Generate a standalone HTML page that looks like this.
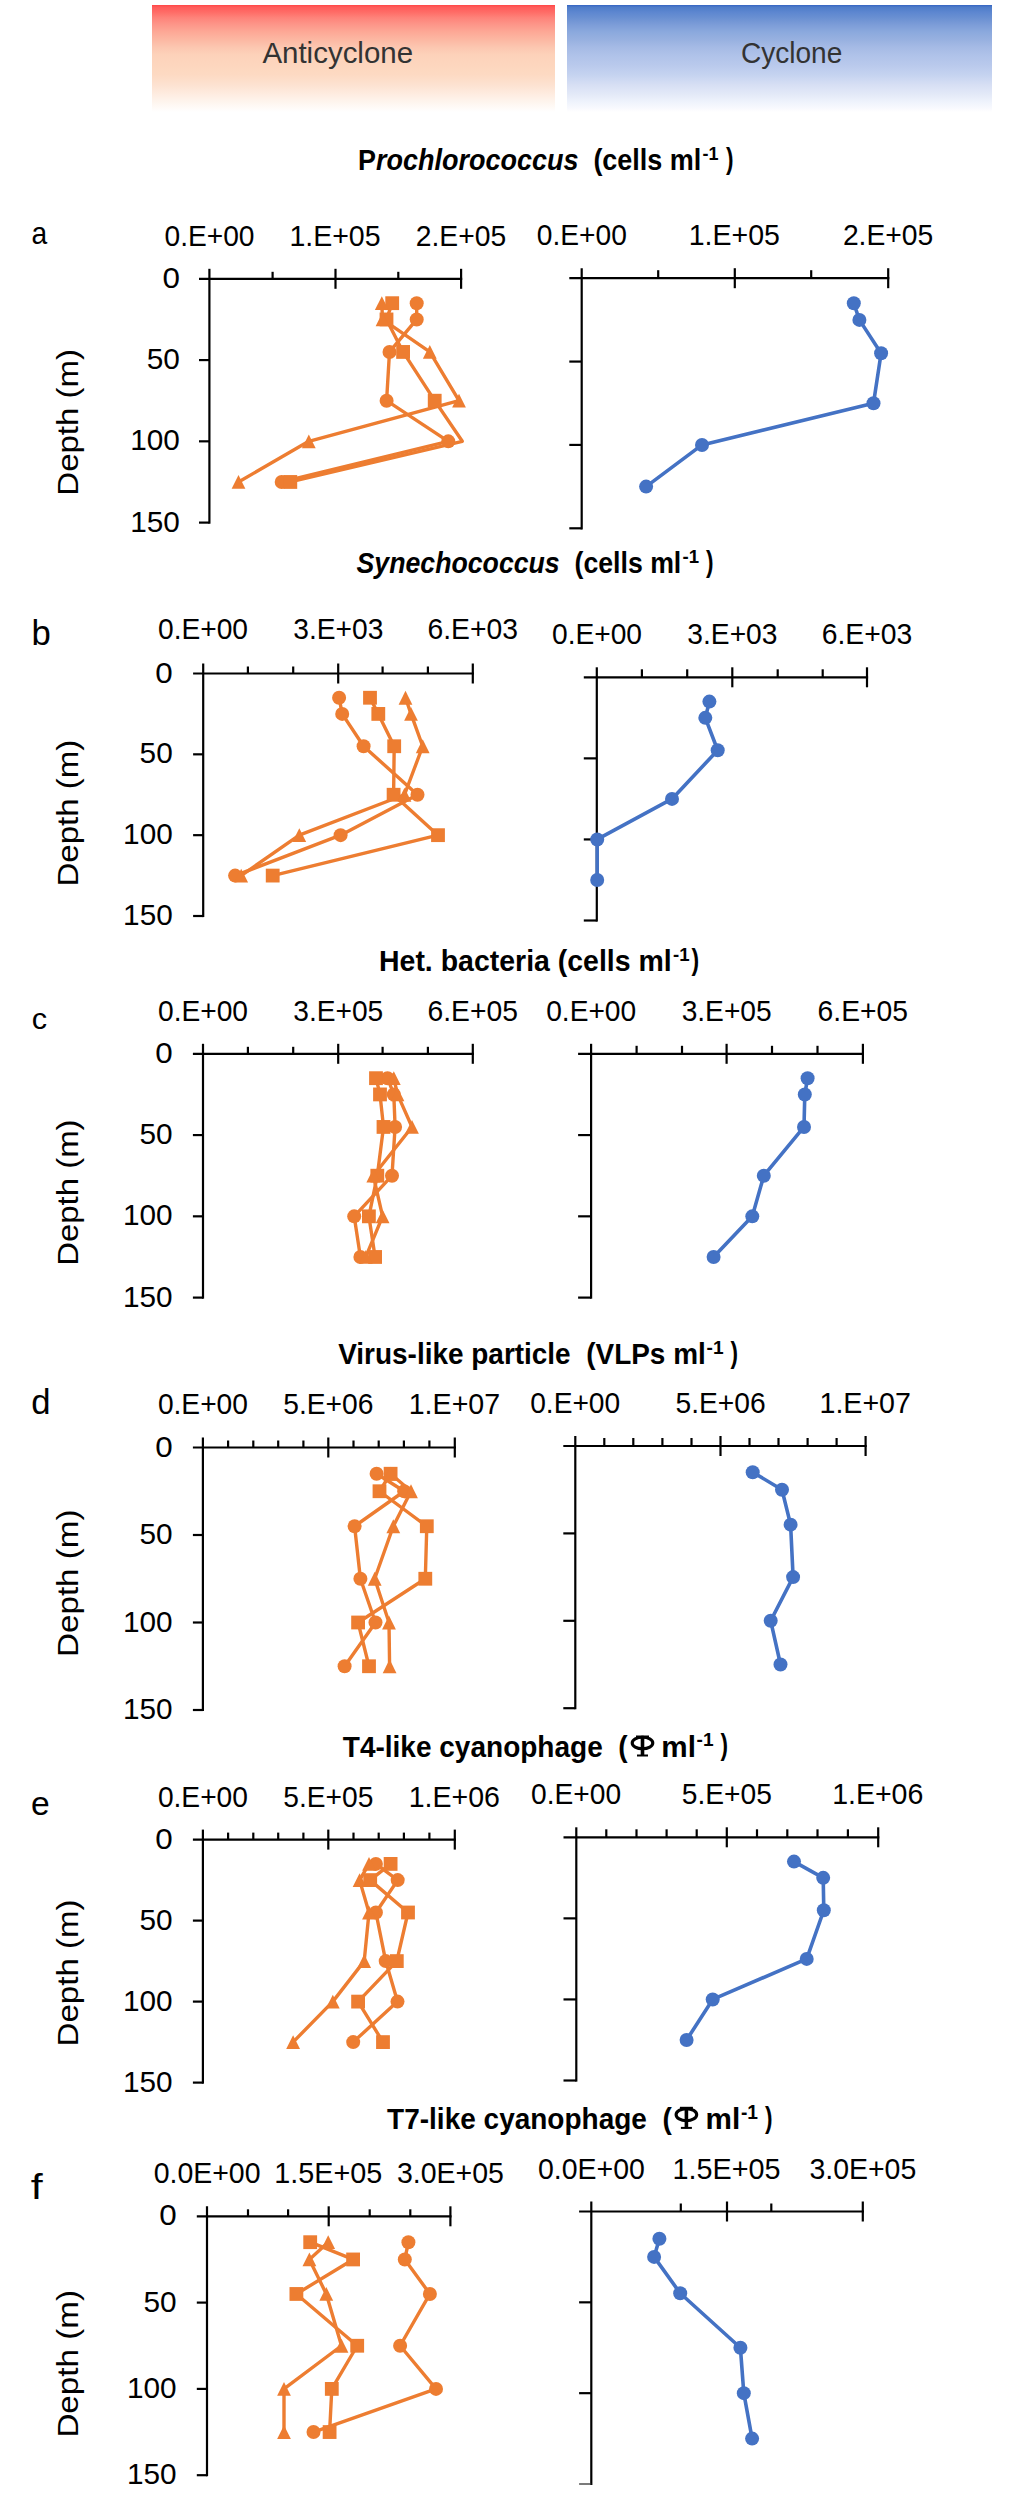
<!DOCTYPE html><html><head><meta charset="utf-8"><style>
html,body{margin:0;padding:0;background:#fff;}body{width:1013px;height:2500px;overflow:hidden;}
svg{display:block;font-family:"Liberation Sans", sans-serif;}
</style></head><body>
<svg width="1013" height="2500" viewBox="0 0 1013 2500">
<defs>
<linearGradient id="gr" x1="0" y1="0" x2="0" y2="1"><stop offset="0" stop-color="#FF4545"/><stop offset="0.02" stop-color="#FF5C5A"/><stop offset="0.065" stop-color="#FF6B66"/><stop offset="0.12" stop-color="#FE837A"/><stop offset="0.187" stop-color="#FD978A"/><stop offset="0.252" stop-color="#FDA896"/><stop offset="0.327" stop-color="#FCB8A3"/><stop offset="0.393" stop-color="#FCC6B0"/><stop offset="0.467" stop-color="#FDD2BA"/><stop offset="0.56" stop-color="#FDD6BE"/><stop offset="0.654" stop-color="#FDDAC3"/><stop offset="0.748" stop-color="#FDE2D1"/><stop offset="0.841" stop-color="#FEEDE2"/><stop offset="0.907" stop-color="#FEF5EE"/><stop offset="0.963" stop-color="#FFFBF8"/><stop offset="1" stop-color="#FFFFFF"/></linearGradient>
<linearGradient id="gb" x1="0" y1="0" x2="0" y2="1"><stop offset="0" stop-color="#3464C2"/><stop offset="0.02" stop-color="#4E7CC8"/><stop offset="0.065" stop-color="#5C86D0"/><stop offset="0.12" stop-color="#6A90D2"/><stop offset="0.187" stop-color="#7D9DD8"/><stop offset="0.252" stop-color="#8BA9DD"/><stop offset="0.327" stop-color="#98B1E0"/><stop offset="0.393" stop-color="#A5BAE5"/><stop offset="0.467" stop-color="#AFC2E9"/><stop offset="0.56" stop-color="#B9C9EC"/><stop offset="0.654" stop-color="#C5D3F0"/><stop offset="0.748" stop-color="#D7DFF4"/><stop offset="0.841" stop-color="#E4EAF8"/><stop offset="0.907" stop-color="#EFF3FC"/><stop offset="0.963" stop-color="#F8F9FE"/><stop offset="1" stop-color="#FFFFFF"/></linearGradient>
</defs>
<rect x="152" y="5" width="403" height="107" fill="url(#gr)"/>
<rect x="567" y="5" width="425" height="107" fill="url(#gb)"/>
<text x="262.4" y="62.9" font-size="29.2" text-anchor="start" font-weight="normal" font-style="normal" fill="#333" textLength="150.7" lengthAdjust="spacingAndGlyphs">Anticyclone</text>
<text x="741" y="63.2" font-size="29.2" text-anchor="start" font-weight="normal" font-style="normal" fill="#333" textLength="101.3" lengthAdjust="spacingAndGlyphs">Cyclone</text>
<g stroke="#000" stroke-width="2.2" fill="none" stroke-linecap="butt">
<path d="M199 278.8H462.2"/>
<path d="M209.4 268.8V523.7"/>
<path d="M335.5 268.8V288.8"/>
<path d="M461.1 268.8V288.8"/>
<path d="M272.6 271.8V278.8"/>
<path d="M398.3 271.8V278.8"/>
<path d="M199 360.07H209.4"/>
<path d="M199 441.33H209.4"/>
<path d="M199 522.6H209.4"/>
</g>
<text x="164.5" y="245.97" font-size="29.1" fill="#000" font-weight="normal" textLength="90" lengthAdjust="spacingAndGlyphs">0.E+00</text>
<text x="289.43" y="245.97" font-size="29.1" fill="#000" font-weight="normal" textLength="91.17" lengthAdjust="spacingAndGlyphs">1.E+05</text>
<text x="415.78" y="245.97" font-size="29.1" fill="#000" font-weight="normal" textLength="90.41" lengthAdjust="spacingAndGlyphs">2.E+05</text>
<text x="162.47" y="287.82" font-size="29.1" fill="#000" font-weight="normal" textLength="17.45" lengthAdjust="spacingAndGlyphs">0</text>
<text x="146.71" y="369.08" font-size="29.1" fill="#000" font-weight="normal" textLength="33.16" lengthAdjust="spacingAndGlyphs">50</text>
<text x="130.23" y="450.35" font-size="29.1" fill="#000" font-weight="normal" textLength="49.63" lengthAdjust="spacingAndGlyphs">100</text>
<text x="130.23" y="531.62" font-size="29.1" fill="#000" font-weight="normal" textLength="49.63" lengthAdjust="spacingAndGlyphs">150</text>
<defs><clipPath id="clip140125795149952"><rect x="189.4" y="258.8" width="277.7" height="283.8"/></clipPath></defs>
<g clip-path="url(#clip140125795149952)">
<polyline points="416.7,303.18 416.7,319.43 389.5,351.94 386.6,400.7 448.3,441.33 281.7,481.97" fill="none" stroke="#ED7D31" stroke-width="3.4" stroke-linejoin="round"/>
<polyline points="392.2,303.18 386.5,319.43 403.1,351.94 434.7,400.7 462.3,441.33 290.3,481.97" fill="none" stroke="#ED7D31" stroke-width="3.4" stroke-linejoin="round"/>
<polyline points="381.8,303.18 382.5,319.43 429.8,351.94 459,400.7 308.8,441.33 238.5,481.97" fill="none" stroke="#ED7D31" stroke-width="3.4" stroke-linejoin="round"/>
<circle cx="416.7" cy="303.18" r="7" fill="#ED7D31"/>
<circle cx="416.7" cy="319.43" r="7" fill="#ED7D31"/>
<circle cx="389.5" cy="351.94" r="7" fill="#ED7D31"/>
<circle cx="386.6" cy="400.7" r="7" fill="#ED7D31"/>
<circle cx="448.3" cy="441.33" r="7" fill="#ED7D31"/>
<circle cx="281.7" cy="481.97" r="7" fill="#ED7D31"/>
<rect x="385.3" y="296.28" width="13.8" height="13.8" fill="#ED7D31"/>
<rect x="379.6" y="312.53" width="13.8" height="13.8" fill="#ED7D31"/>
<rect x="396.2" y="345.04" width="13.8" height="13.8" fill="#ED7D31"/>
<rect x="427.8" y="393.8" width="13.8" height="13.8" fill="#ED7D31"/>
<rect x="283.4" y="475.07" width="13.8" height="13.8" fill="#ED7D31"/>
<path d="M381.8 296.28L388.7 310.08L374.9 310.08Z" fill="#ED7D31"/>
<path d="M382.5 312.53L389.4 326.33L375.6 326.33Z" fill="#ED7D31"/>
<path d="M429.8 345.04L436.7 358.84L422.9 358.84Z" fill="#ED7D31"/>
<path d="M459 393.8L465.9 407.6L452.1 407.6Z" fill="#ED7D31"/>
<path d="M308.8 434.43L315.7 448.23L301.9 448.23Z" fill="#ED7D31"/>
<path d="M238.5 475.07L245.4 488.87L231.6 488.87Z" fill="#ED7D31"/>
</g>
<g stroke="#000" stroke-width="2.2" fill="none" stroke-linecap="butt">
<path d="M569.3 278.2H889.3"/>
<path d="M581.7 268.2V529.4"/>
<path d="M734.8 268.2V288.2"/>
<path d="M888.2 268.2V288.2"/>
<path d="M658.2 270.2V278.2"/>
<path d="M811.2 270.2V278.2"/>
<path d="M569.3 361.57H581.7"/>
<path d="M569.3 444.93H581.7"/>
<path d="M569.3 528.3H581.7"/>
</g>
<text x="536.8" y="244.82" font-size="29.1" fill="#000" font-weight="normal" textLength="90" lengthAdjust="spacingAndGlyphs">0.E+00</text>
<text x="688.73" y="244.82" font-size="29.1" fill="#000" font-weight="normal" textLength="91.17" lengthAdjust="spacingAndGlyphs">1.E+05</text>
<text x="842.88" y="244.82" font-size="29.1" fill="#000" font-weight="normal" textLength="90.41" lengthAdjust="spacingAndGlyphs">2.E+05</text>
<defs><clipPath id="clip140125797325632"><rect x="561.7" y="258.2" width="332.5" height="290.1"/></clipPath></defs>
<g clip-path="url(#clip140125797325632)">
<polyline points="853.8,303.21 859.4,319.88 881.1,353.23 873.5,403.25 702,444.93 646.1,486.62" fill="none" stroke="#4472C4" stroke-width="3.6" stroke-linejoin="round"/>
<circle cx="853.8" cy="303.21" r="7" fill="#4472C4"/>
<circle cx="859.4" cy="319.88" r="7" fill="#4472C4"/>
<circle cx="881.1" cy="353.23" r="7" fill="#4472C4"/>
<circle cx="873.5" cy="403.25" r="7" fill="#4472C4"/>
<circle cx="702" cy="444.93" r="7" fill="#4472C4"/>
<circle cx="646.1" cy="486.62" r="7" fill="#4472C4"/>
</g>
<g stroke="#000" stroke-width="2.2" fill="none" stroke-linecap="butt">
<path d="M193.1 673.5H473.9"/>
<path d="M203.2 663.5V917.1"/>
<path d="M338.2 663.5V683.5"/>
<path d="M472.8 663.5V683.5"/>
<path d="M247.9 666.5V673.5"/>
<path d="M293.2 666.5V673.5"/>
<path d="M382.6 666.5V673.5"/>
<path d="M427.9 666.5V673.5"/>
<path d="M193.1 754.33H203.2"/>
<path d="M193.1 835.17H203.2"/>
<path d="M193.1 916H203.2"/>
</g>
<text x="158" y="639.32" font-size="29.1" fill="#000" font-weight="normal" textLength="90" lengthAdjust="spacingAndGlyphs">0.E+00</text>
<text x="293.23" y="639.32" font-size="29.1" fill="#000" font-weight="normal" textLength="90.11" lengthAdjust="spacingAndGlyphs">3.E+03</text>
<text x="427.46" y="639.32" font-size="29.1" fill="#000" font-weight="normal" textLength="90.48" lengthAdjust="spacingAndGlyphs">6.E+03</text>
<text x="155.37" y="682.52" font-size="29.1" fill="#000" font-weight="normal" textLength="17.45" lengthAdjust="spacingAndGlyphs">0</text>
<text x="139.61" y="763.35" font-size="29.1" fill="#000" font-weight="normal" textLength="33.16" lengthAdjust="spacingAndGlyphs">50</text>
<text x="123.13" y="844.18" font-size="29.1" fill="#000" font-weight="normal" textLength="49.63" lengthAdjust="spacingAndGlyphs">100</text>
<text x="123.13" y="925.02" font-size="29.1" fill="#000" font-weight="normal" textLength="49.63" lengthAdjust="spacingAndGlyphs">150</text>
<defs><clipPath id="clip140125791791936"><rect x="183.2" y="653.5" width="295.6" height="282.5"/></clipPath></defs>
<g clip-path="url(#clip140125791791936)">
<polyline points="339.1,697.75 342.2,713.92 363.6,746.25 417.5,794.75 340.6,835.17 235.1,875.58" fill="none" stroke="#ED7D31" stroke-width="3.4" stroke-linejoin="round"/>
<polyline points="370,697.75 378.3,713.92 394.2,746.25 393.6,794.75 438,835.17 272.7,875.58" fill="none" stroke="#ED7D31" stroke-width="3.4" stroke-linejoin="round"/>
<polyline points="405.5,697.75 411,713.92 422.7,746.25 404.5,794.75 299.3,835.17 241.2,875.58" fill="none" stroke="#ED7D31" stroke-width="3.4" stroke-linejoin="round"/>
<circle cx="339.1" cy="697.75" r="7" fill="#ED7D31"/>
<circle cx="342.2" cy="713.92" r="7" fill="#ED7D31"/>
<circle cx="363.6" cy="746.25" r="7" fill="#ED7D31"/>
<circle cx="417.5" cy="794.75" r="7" fill="#ED7D31"/>
<circle cx="340.6" cy="835.17" r="7" fill="#ED7D31"/>
<circle cx="235.1" cy="875.58" r="7" fill="#ED7D31"/>
<rect x="363.1" y="690.85" width="13.8" height="13.8" fill="#ED7D31"/>
<rect x="371.4" y="707.02" width="13.8" height="13.8" fill="#ED7D31"/>
<rect x="387.3" y="739.35" width="13.8" height="13.8" fill="#ED7D31"/>
<rect x="386.7" y="787.85" width="13.8" height="13.8" fill="#ED7D31"/>
<rect x="431.1" y="828.27" width="13.8" height="13.8" fill="#ED7D31"/>
<rect x="265.8" y="868.68" width="13.8" height="13.8" fill="#ED7D31"/>
<path d="M405.5 690.85L412.4 704.65L398.6 704.65Z" fill="#ED7D31"/>
<path d="M411 707.02L417.9 720.82L404.1 720.82Z" fill="#ED7D31"/>
<path d="M422.7 739.35L429.6 753.15L415.8 753.15Z" fill="#ED7D31"/>
<path d="M404.5 787.85L411.4 801.65L397.6 801.65Z" fill="#ED7D31"/>
<path d="M299.3 828.27L306.2 842.07L292.4 842.07Z" fill="#ED7D31"/>
<path d="M241.2 868.68L248.1 882.48L234.3 882.48Z" fill="#ED7D31"/>
</g>
<g stroke="#000" stroke-width="2.2" fill="none" stroke-linecap="butt">
<path d="M583.8 677.3H868.1"/>
<path d="M596.8 667.3V921.6"/>
<path d="M732.3 667.3V687.3"/>
<path d="M867 667.3V687.3"/>
<path d="M641.9 669.3V677.3"/>
<path d="M687.2 669.3V677.3"/>
<path d="M777.7 669.3V677.3"/>
<path d="M822.7 669.3V677.3"/>
<path d="M583.8 758.37H596.8"/>
<path d="M583.8 839.43H596.8"/>
<path d="M583.8 920.5H596.8"/>
</g>
<text x="552" y="644.22" font-size="29.1" fill="#000" font-weight="normal" textLength="90" lengthAdjust="spacingAndGlyphs">0.E+00</text>
<text x="687.33" y="644.22" font-size="29.1" fill="#000" font-weight="normal" textLength="90.11" lengthAdjust="spacingAndGlyphs">3.E+03</text>
<text x="821.66" y="644.22" font-size="29.1" fill="#000" font-weight="normal" textLength="90.48" lengthAdjust="spacingAndGlyphs">6.E+03</text>
<defs><clipPath id="clip140125791792064"><rect x="576.8" y="657.3" width="296.2" height="283.2"/></clipPath></defs>
<g clip-path="url(#clip140125791792064)">
<polyline points="709.4,701.62 705.3,717.83 717.7,750.26 672,798.9 597.2,839.43 597.2,879.97" fill="none" stroke="#4472C4" stroke-width="3.6" stroke-linejoin="round"/>
<circle cx="709.4" cy="701.62" r="7" fill="#4472C4"/>
<circle cx="705.3" cy="717.83" r="7" fill="#4472C4"/>
<circle cx="717.7" cy="750.26" r="7" fill="#4472C4"/>
<circle cx="672" cy="798.9" r="7" fill="#4472C4"/>
<circle cx="597.2" cy="839.43" r="7" fill="#4472C4"/>
<circle cx="597.2" cy="879.97" r="7" fill="#4472C4"/>
</g>
<g stroke="#000" stroke-width="2.2" fill="none" stroke-linecap="butt">
<path d="M192.9 1053.8H473.9"/>
<path d="M203 1043.8V1298.7"/>
<path d="M338.2 1043.8V1063.8"/>
<path d="M472.8 1043.8V1063.8"/>
<path d="M247.9 1046.8V1053.8"/>
<path d="M293.2 1046.8V1053.8"/>
<path d="M382.6 1046.8V1053.8"/>
<path d="M427.9 1046.8V1053.8"/>
<path d="M192.9 1135.07H203"/>
<path d="M192.9 1216.33H203"/>
<path d="M192.9 1297.6H203"/>
</g>
<text x="158" y="1020.72" font-size="29.1" fill="#000" font-weight="normal" textLength="90" lengthAdjust="spacingAndGlyphs">0.E+00</text>
<text x="293.23" y="1020.72" font-size="29.1" fill="#000" font-weight="normal" textLength="90.06" lengthAdjust="spacingAndGlyphs">3.E+05</text>
<text x="427.46" y="1020.72" font-size="29.1" fill="#000" font-weight="normal" textLength="90.42" lengthAdjust="spacingAndGlyphs">6.E+05</text>
<text x="155.27" y="1062.82" font-size="29.1" fill="#000" font-weight="normal" textLength="17.45" lengthAdjust="spacingAndGlyphs">0</text>
<text x="139.51" y="1144.08" font-size="29.1" fill="#000" font-weight="normal" textLength="33.16" lengthAdjust="spacingAndGlyphs">50</text>
<text x="123.03" y="1225.35" font-size="29.1" fill="#000" font-weight="normal" textLength="49.63" lengthAdjust="spacingAndGlyphs">100</text>
<text x="123.03" y="1306.62" font-size="29.1" fill="#000" font-weight="normal" textLength="49.63" lengthAdjust="spacingAndGlyphs">150</text>
<defs><clipPath id="clip140125791622080"><rect x="183" y="1033.8" width="295.8" height="283.8"/></clipPath></defs>
<g clip-path="url(#clip140125791622080)">
<polyline points="387.5,1078.18 393.8,1094.43 395.1,1126.94 392,1175.7 354.2,1216.33 360.4,1256.97" fill="none" stroke="#ED7D31" stroke-width="3.4" stroke-linejoin="round"/>
<polyline points="376,1078.18 380,1094.43 383.5,1126.94 377.3,1175.7 368.9,1216.33 375.1,1256.97" fill="none" stroke="#ED7D31" stroke-width="3.4" stroke-linejoin="round"/>
<polyline points="393.8,1078.18 397.5,1094.43 412,1126.94 373.3,1175.7 382.6,1216.33 365.8,1256.97" fill="none" stroke="#ED7D31" stroke-width="3.4" stroke-linejoin="round"/>
<circle cx="387.5" cy="1078.18" r="7" fill="#ED7D31"/>
<circle cx="393.8" cy="1094.43" r="7" fill="#ED7D31"/>
<circle cx="395.1" cy="1126.94" r="7" fill="#ED7D31"/>
<circle cx="392" cy="1175.7" r="7" fill="#ED7D31"/>
<circle cx="354.2" cy="1216.33" r="7" fill="#ED7D31"/>
<circle cx="360.4" cy="1256.97" r="7" fill="#ED7D31"/>
<rect x="369.1" y="1071.28" width="13.8" height="13.8" fill="#ED7D31"/>
<rect x="373.1" y="1087.53" width="13.8" height="13.8" fill="#ED7D31"/>
<rect x="376.6" y="1120.04" width="13.8" height="13.8" fill="#ED7D31"/>
<rect x="370.4" y="1168.8" width="13.8" height="13.8" fill="#ED7D31"/>
<rect x="362" y="1209.43" width="13.8" height="13.8" fill="#ED7D31"/>
<rect x="368.2" y="1250.07" width="13.8" height="13.8" fill="#ED7D31"/>
<path d="M393.8 1071.28L400.7 1085.08L386.9 1085.08Z" fill="#ED7D31"/>
<path d="M397.5 1087.53L404.4 1101.33L390.6 1101.33Z" fill="#ED7D31"/>
<path d="M412 1120.04L418.9 1133.84L405.1 1133.84Z" fill="#ED7D31"/>
<path d="M373.3 1168.8L380.2 1182.6L366.4 1182.6Z" fill="#ED7D31"/>
<path d="M382.6 1209.43L389.5 1223.23L375.7 1223.23Z" fill="#ED7D31"/>
<path d="M365.8 1250.07L372.7 1263.87L358.9 1263.87Z" fill="#ED7D31"/>
</g>
<g stroke="#000" stroke-width="2.2" fill="none" stroke-linecap="butt">
<path d="M578.1 1053.8H864"/>
<path d="M591.1 1043.8V1298.7"/>
<path d="M726.6 1043.8V1063.8"/>
<path d="M862.9 1043.8V1063.8"/>
<path d="M636.6 1045.8V1053.8"/>
<path d="M682 1045.8V1053.8"/>
<path d="M772 1045.8V1053.8"/>
<path d="M817.5 1045.8V1053.8"/>
<path d="M578.1 1135.07H591.1"/>
<path d="M578.1 1216.33H591.1"/>
<path d="M578.1 1297.6H591.1"/>
</g>
<text x="546.2" y="1020.72" font-size="29.1" fill="#000" font-weight="normal" textLength="90" lengthAdjust="spacingAndGlyphs">0.E+00</text>
<text x="681.63" y="1020.72" font-size="29.1" fill="#000" font-weight="normal" textLength="90.06" lengthAdjust="spacingAndGlyphs">3.E+05</text>
<text x="817.56" y="1020.72" font-size="29.1" fill="#000" font-weight="normal" textLength="90.42" lengthAdjust="spacingAndGlyphs">6.E+05</text>
<defs><clipPath id="clip140125791622016"><rect x="571.1" y="1033.8" width="297.8" height="283.8"/></clipPath></defs>
<g clip-path="url(#clip140125791622016)">
<polyline points="807.6,1078.18 804.8,1094.43 804,1126.94 763.8,1175.7 752.3,1216.33 713.6,1256.97" fill="none" stroke="#4472C4" stroke-width="3.6" stroke-linejoin="round"/>
<circle cx="807.6" cy="1078.18" r="7" fill="#4472C4"/>
<circle cx="804.8" cy="1094.43" r="7" fill="#4472C4"/>
<circle cx="804" cy="1126.94" r="7" fill="#4472C4"/>
<circle cx="763.8" cy="1175.7" r="7" fill="#4472C4"/>
<circle cx="752.3" cy="1216.33" r="7" fill="#4472C4"/>
<circle cx="713.6" cy="1256.97" r="7" fill="#4472C4"/>
</g>
<g stroke="#000" stroke-width="2.2" fill="none" stroke-linecap="butt">
<path d="M192.9 1447.5H455.9"/>
<path d="M202.9 1437.5V1711.1"/>
<path d="M328.3 1437.5V1457.5"/>
<path d="M454.8 1437.5V1457.5"/>
<path d="M228.1 1440.5V1447.5"/>
<path d="M253.3 1440.5V1447.5"/>
<path d="M278.2 1440.5V1447.5"/>
<path d="M303.4 1440.5V1447.5"/>
<path d="M353.5 1440.5V1447.5"/>
<path d="M378.7 1440.5V1447.5"/>
<path d="M403.9 1440.5V1447.5"/>
<path d="M429.4 1440.5V1447.5"/>
<path d="M192.9 1535H202.9"/>
<path d="M192.9 1622.5H202.9"/>
<path d="M192.9 1710H202.9"/>
</g>
<text x="157.9" y="1413.72" font-size="29.1" fill="#000" font-weight="normal" textLength="90" lengthAdjust="spacingAndGlyphs">0.E+00</text>
<text x="283.27" y="1413.72" font-size="29.1" fill="#000" font-weight="normal" textLength="90.17" lengthAdjust="spacingAndGlyphs">5.E+06</text>
<text x="408.72" y="1413.72" font-size="29.1" fill="#000" font-weight="normal" textLength="91.42" lengthAdjust="spacingAndGlyphs">1.E+07</text>
<text x="155.17" y="1456.52" font-size="29.1" fill="#000" font-weight="normal" textLength="17.45" lengthAdjust="spacingAndGlyphs">0</text>
<text x="139.41" y="1544.02" font-size="29.1" fill="#000" font-weight="normal" textLength="33.16" lengthAdjust="spacingAndGlyphs">50</text>
<text x="122.93" y="1631.52" font-size="29.1" fill="#000" font-weight="normal" textLength="49.63" lengthAdjust="spacingAndGlyphs">100</text>
<text x="122.93" y="1719.02" font-size="29.1" fill="#000" font-weight="normal" textLength="49.63" lengthAdjust="spacingAndGlyphs">150</text>
<defs><clipPath id="clip140125793524032"><rect x="182.9" y="1427.5" width="277.9" height="302.5"/></clipPath></defs>
<g clip-path="url(#clip140125793524032)">
<polyline points="376.6,1473.75 404.2,1491.25 354.6,1526.25 360.4,1578.75 375.5,1622.5 344.6,1666.25" fill="none" stroke="#ED7D31" stroke-width="3.4" stroke-linejoin="round"/>
<polyline points="390.6,1473.75 379.5,1491.25 426.8,1526.25 425.3,1578.75 358.1,1622.5 369,1666.25" fill="none" stroke="#ED7D31" stroke-width="3.4" stroke-linejoin="round"/>
<polyline points="390.6,1473.75 411,1491.25 393.3,1526.25 374.7,1578.75 389,1622.5 389.6,1666.25" fill="none" stroke="#ED7D31" stroke-width="3.4" stroke-linejoin="round"/>
<circle cx="376.6" cy="1473.75" r="7" fill="#ED7D31"/>
<circle cx="404.2" cy="1491.25" r="7" fill="#ED7D31"/>
<circle cx="354.6" cy="1526.25" r="7" fill="#ED7D31"/>
<circle cx="360.4" cy="1578.75" r="7" fill="#ED7D31"/>
<circle cx="375.5" cy="1622.5" r="7" fill="#ED7D31"/>
<circle cx="344.6" cy="1666.25" r="7" fill="#ED7D31"/>
<rect x="383.7" y="1466.85" width="13.8" height="13.8" fill="#ED7D31"/>
<rect x="372.6" y="1484.35" width="13.8" height="13.8" fill="#ED7D31"/>
<rect x="419.9" y="1519.35" width="13.8" height="13.8" fill="#ED7D31"/>
<rect x="418.4" y="1571.85" width="13.8" height="13.8" fill="#ED7D31"/>
<rect x="351.2" y="1615.6" width="13.8" height="13.8" fill="#ED7D31"/>
<rect x="362.1" y="1659.35" width="13.8" height="13.8" fill="#ED7D31"/>
<path d="M390.6 1466.85L397.5 1480.65L383.7 1480.65Z" fill="#ED7D31"/>
<path d="M411 1484.35L417.9 1498.15L404.1 1498.15Z" fill="#ED7D31"/>
<path d="M393.3 1519.35L400.2 1533.15L386.4 1533.15Z" fill="#ED7D31"/>
<path d="M374.7 1571.85L381.6 1585.65L367.8 1585.65Z" fill="#ED7D31"/>
<path d="M389 1615.6L395.9 1629.4L382.1 1629.4Z" fill="#ED7D31"/>
<path d="M389.6 1659.35L396.5 1673.15L382.7 1673.15Z" fill="#ED7D31"/>
</g>
<g stroke="#000" stroke-width="2.2" fill="none" stroke-linecap="butt">
<path d="M563.3 1446H866.7"/>
<path d="M575.3 1436V1709.3"/>
<path d="M720.5 1436V1456"/>
<path d="M865.6 1436V1456"/>
<path d="M604.3 1438V1446"/>
<path d="M633.3 1438V1446"/>
<path d="M662.4 1438V1446"/>
<path d="M691.5 1438V1446"/>
<path d="M749.5 1438V1446"/>
<path d="M778.5 1438V1446"/>
<path d="M807.6 1438V1446"/>
<path d="M836.6 1438V1446"/>
<path d="M563.3 1533.4H575.3"/>
<path d="M563.3 1620.8H575.3"/>
<path d="M563.3 1708.2H575.3"/>
</g>
<text x="530.2" y="1413.32" font-size="29.1" fill="#000" font-weight="normal" textLength="90" lengthAdjust="spacingAndGlyphs">0.E+00</text>
<text x="675.47" y="1413.32" font-size="29.1" fill="#000" font-weight="normal" textLength="90.17" lengthAdjust="spacingAndGlyphs">5.E+06</text>
<text x="819.52" y="1413.32" font-size="29.1" fill="#000" font-weight="normal" textLength="91.42" lengthAdjust="spacingAndGlyphs">1.E+07</text>
<defs><clipPath id="clip140125791622208"><rect x="555.3" y="1426" width="316.3" height="302.2"/></clipPath></defs>
<g clip-path="url(#clip140125791622208)">
<polyline points="752.7,1472.22 782,1489.7 790.6,1524.66 793.1,1577.1 770.7,1620.8 780.5,1664.5" fill="none" stroke="#4472C4" stroke-width="3.6" stroke-linejoin="round"/>
<circle cx="752.7" cy="1472.22" r="7" fill="#4472C4"/>
<circle cx="782" cy="1489.7" r="7" fill="#4472C4"/>
<circle cx="790.6" cy="1524.66" r="7" fill="#4472C4"/>
<circle cx="793.1" cy="1577.1" r="7" fill="#4472C4"/>
<circle cx="770.7" cy="1620.8" r="7" fill="#4472C4"/>
<circle cx="780.5" cy="1664.5" r="7" fill="#4472C4"/>
</g>
<g stroke="#000" stroke-width="2.2" fill="none" stroke-linecap="butt">
<path d="M192.9 1839.6H455.9"/>
<path d="M202.9 1829.6V2083.7"/>
<path d="M328.3 1829.6V1849.6"/>
<path d="M454.8 1829.6V1849.6"/>
<path d="M228.1 1832.6V1839.6"/>
<path d="M253.3 1832.6V1839.6"/>
<path d="M278.2 1832.6V1839.6"/>
<path d="M303.4 1832.6V1839.6"/>
<path d="M353.5 1832.6V1839.6"/>
<path d="M378.7 1832.6V1839.6"/>
<path d="M403.9 1832.6V1839.6"/>
<path d="M429.4 1832.6V1839.6"/>
<path d="M192.9 1920.6H202.9"/>
<path d="M192.9 2001.6H202.9"/>
<path d="M192.9 2082.6H202.9"/>
</g>
<text x="157.9" y="1806.82" font-size="29.1" fill="#000" font-weight="normal" textLength="90" lengthAdjust="spacingAndGlyphs">0.E+00</text>
<text x="283.27" y="1806.82" font-size="29.1" fill="#000" font-weight="normal" textLength="90.11" lengthAdjust="spacingAndGlyphs">5.E+05</text>
<text x="408.73" y="1806.82" font-size="29.1" fill="#000" font-weight="normal" textLength="91.23" lengthAdjust="spacingAndGlyphs">1.E+06</text>
<text x="155.17" y="1848.62" font-size="29.1" fill="#000" font-weight="normal" textLength="17.45" lengthAdjust="spacingAndGlyphs">0</text>
<text x="139.41" y="1929.62" font-size="29.1" fill="#000" font-weight="normal" textLength="33.16" lengthAdjust="spacingAndGlyphs">50</text>
<text x="122.93" y="2010.62" font-size="29.1" fill="#000" font-weight="normal" textLength="49.63" lengthAdjust="spacingAndGlyphs">100</text>
<text x="122.93" y="2091.62" font-size="29.1" fill="#000" font-weight="normal" textLength="49.63" lengthAdjust="spacingAndGlyphs">150</text>
<defs><clipPath id="clip140125795149184"><rect x="182.9" y="1819.6" width="277.9" height="283"/></clipPath></defs>
<g clip-path="url(#clip140125795149184)">
<polyline points="375.9,1863.9 397.7,1880.1 375.9,1912.5 385.7,1961.1 397.5,2001.6 353.2,2042.1" fill="none" stroke="#ED7D31" stroke-width="3.4" stroke-linejoin="round"/>
<polyline points="390.6,1863.9 370.2,1880.1 408,1912.5 396.8,1961.1 358.1,2001.6 383,2042.1" fill="none" stroke="#ED7D31" stroke-width="3.4" stroke-linejoin="round"/>
<polyline points="369,1863.9 359.6,1880.1 369,1912.5 364.2,1961.1 332.8,2001.6 293.1,2042.1" fill="none" stroke="#ED7D31" stroke-width="3.4" stroke-linejoin="round"/>
<circle cx="375.9" cy="1863.9" r="7" fill="#ED7D31"/>
<circle cx="397.7" cy="1880.1" r="7" fill="#ED7D31"/>
<circle cx="375.9" cy="1912.5" r="7" fill="#ED7D31"/>
<circle cx="385.7" cy="1961.1" r="7" fill="#ED7D31"/>
<circle cx="397.5" cy="2001.6" r="7" fill="#ED7D31"/>
<circle cx="353.2" cy="2042.1" r="7" fill="#ED7D31"/>
<rect x="383.7" y="1857" width="13.8" height="13.8" fill="#ED7D31"/>
<rect x="363.3" y="1873.2" width="13.8" height="13.8" fill="#ED7D31"/>
<rect x="401.1" y="1905.6" width="13.8" height="13.8" fill="#ED7D31"/>
<rect x="389.9" y="1954.2" width="13.8" height="13.8" fill="#ED7D31"/>
<rect x="351.2" y="1994.7" width="13.8" height="13.8" fill="#ED7D31"/>
<rect x="376.1" y="2035.2" width="13.8" height="13.8" fill="#ED7D31"/>
<path d="M369 1857L375.9 1870.8L362.1 1870.8Z" fill="#ED7D31"/>
<path d="M359.6 1873.2L366.5 1887L352.7 1887Z" fill="#ED7D31"/>
<path d="M369 1905.6L375.9 1919.4L362.1 1919.4Z" fill="#ED7D31"/>
<path d="M364.2 1954.2L371.1 1968L357.3 1968Z" fill="#ED7D31"/>
<path d="M332.8 1994.7L339.7 2008.5L325.9 2008.5Z" fill="#ED7D31"/>
<path d="M293.1 2035.2L300 2049L286.2 2049Z" fill="#ED7D31"/>
</g>
<g stroke="#000" stroke-width="2.2" fill="none" stroke-linecap="butt">
<path d="M563.5 1837.3H879.3"/>
<path d="M576.3 1827.3V2081.6"/>
<path d="M726.8 1827.3V1847.3"/>
<path d="M878.2 1827.3V1847.3"/>
<path d="M606.3 1829.3V1837.3"/>
<path d="M636.5 1829.3V1837.3"/>
<path d="M666.6 1829.3V1837.3"/>
<path d="M696.7 1829.3V1837.3"/>
<path d="M757 1829.3V1837.3"/>
<path d="M787.3 1829.3V1837.3"/>
<path d="M817.5 1829.3V1837.3"/>
<path d="M847.9 1829.3V1837.3"/>
<path d="M563.5 1918.37H576.3"/>
<path d="M563.5 1999.43H576.3"/>
<path d="M563.5 2080.5H576.3"/>
</g>
<text x="531.1" y="1804.32" font-size="29.1" fill="#000" font-weight="normal" textLength="90" lengthAdjust="spacingAndGlyphs">0.E+00</text>
<text x="681.77" y="1804.32" font-size="29.1" fill="#000" font-weight="normal" textLength="90.11" lengthAdjust="spacingAndGlyphs">5.E+05</text>
<text x="832.13" y="1804.32" font-size="29.1" fill="#000" font-weight="normal" textLength="91.23" lengthAdjust="spacingAndGlyphs">1.E+06</text>
<defs><clipPath id="clip140125791622144"><rect x="556.3" y="1817.3" width="327.9" height="283.2"/></clipPath></defs>
<g clip-path="url(#clip140125791622144)">
<polyline points="794,1861.62 823.2,1877.83 823.8,1910.26 806.7,1958.9 712.7,1999.43 686.6,2039.97" fill="none" stroke="#4472C4" stroke-width="3.6" stroke-linejoin="round"/>
<circle cx="794" cy="1861.62" r="7" fill="#4472C4"/>
<circle cx="823.2" cy="1877.83" r="7" fill="#4472C4"/>
<circle cx="823.8" cy="1910.26" r="7" fill="#4472C4"/>
<circle cx="806.7" cy="1958.9" r="7" fill="#4472C4"/>
<circle cx="712.7" cy="1999.43" r="7" fill="#4472C4"/>
<circle cx="686.6" cy="2039.97" r="7" fill="#4472C4"/>
</g>
<g stroke="#000" stroke-width="2.2" fill="none" stroke-linecap="butt">
<path d="M196.8 2216.3H451.5"/>
<path d="M207 2206.3V2476.3"/>
<path d="M328.7 2206.3V2226.3"/>
<path d="M450.4 2206.3V2226.3"/>
<path d="M248 2209.3V2216.3"/>
<path d="M288.1 2209.3V2216.3"/>
<path d="M369.7 2209.3V2216.3"/>
<path d="M410.3 2209.3V2216.3"/>
<path d="M196.8 2302.6H207"/>
<path d="M196.8 2388.9H207"/>
<path d="M196.8 2475.2H207"/>
</g>
<text x="153.69" y="2182.62" font-size="29.1" fill="#000" font-weight="normal" textLength="106.82" lengthAdjust="spacingAndGlyphs">0.0E+00</text>
<text x="274.21" y="2182.62" font-size="29.1" fill="#000" font-weight="normal" textLength="108" lengthAdjust="spacingAndGlyphs">1.5E+05</text>
<text x="397.02" y="2182.62" font-size="29.1" fill="#000" font-weight="normal" textLength="106.88" lengthAdjust="spacingAndGlyphs">3.0E+05</text>
<text x="159.17" y="2225.32" font-size="29.1" fill="#000" font-weight="normal" textLength="17.45" lengthAdjust="spacingAndGlyphs">0</text>
<text x="143.41" y="2311.62" font-size="29.1" fill="#000" font-weight="normal" textLength="33.16" lengthAdjust="spacingAndGlyphs">50</text>
<text x="126.93" y="2397.92" font-size="29.1" fill="#000" font-weight="normal" textLength="49.63" lengthAdjust="spacingAndGlyphs">100</text>
<text x="126.93" y="2484.22" font-size="29.1" fill="#000" font-weight="normal" textLength="49.63" lengthAdjust="spacingAndGlyphs">150</text>
<defs><clipPath id="clip140125795147968"><rect x="187" y="2196.3" width="269.4" height="298.9"/></clipPath></defs>
<g clip-path="url(#clip140125795147968)">
<polyline points="408.4,2242.19 404.8,2259.45 429.9,2293.97 400.1,2345.75 436,2388.9 313.5,2432.05" fill="none" stroke="#ED7D31" stroke-width="3.4" stroke-linejoin="round"/>
<polyline points="310.2,2242.19 353.1,2259.45 296.4,2293.97 357.2,2345.75 331.8,2388.9 329.6,2432.05" fill="none" stroke="#ED7D31" stroke-width="3.4" stroke-linejoin="round"/>
<polyline points="328.2,2242.19 309.4,2259.45 326.3,2293.97 341.5,2345.75 284,2388.9 284,2432.05" fill="none" stroke="#ED7D31" stroke-width="3.4" stroke-linejoin="round"/>
<circle cx="408.4" cy="2242.19" r="7" fill="#ED7D31"/>
<circle cx="404.8" cy="2259.45" r="7" fill="#ED7D31"/>
<circle cx="429.9" cy="2293.97" r="7" fill="#ED7D31"/>
<circle cx="400.1" cy="2345.75" r="7" fill="#ED7D31"/>
<circle cx="436" cy="2388.9" r="7" fill="#ED7D31"/>
<circle cx="313.5" cy="2432.05" r="7" fill="#ED7D31"/>
<rect x="303.3" y="2235.29" width="13.8" height="13.8" fill="#ED7D31"/>
<rect x="346.2" y="2252.55" width="13.8" height="13.8" fill="#ED7D31"/>
<rect x="289.5" y="2287.07" width="13.8" height="13.8" fill="#ED7D31"/>
<rect x="350.3" y="2338.85" width="13.8" height="13.8" fill="#ED7D31"/>
<rect x="324.9" y="2382" width="13.8" height="13.8" fill="#ED7D31"/>
<rect x="322.7" y="2425.15" width="13.8" height="13.8" fill="#ED7D31"/>
<path d="M328.2 2235.29L335.1 2249.09L321.3 2249.09Z" fill="#ED7D31"/>
<path d="M309.4 2252.55L316.3 2266.35L302.5 2266.35Z" fill="#ED7D31"/>
<path d="M326.3 2287.07L333.2 2300.87L319.4 2300.87Z" fill="#ED7D31"/>
<path d="M341.5 2338.85L348.4 2352.65L334.6 2352.65Z" fill="#ED7D31"/>
<path d="M284 2382L290.9 2395.8L277.1 2395.8Z" fill="#ED7D31"/>
<path d="M284 2425.15L290.9 2438.95L277.1 2438.95Z" fill="#ED7D31"/>
</g>
<g stroke="#000" stroke-width="2.2" fill="none" stroke-linecap="butt">
<path d="M579.1 2211.5H863.9"/>
<path d="M591.3 2201.5V2485.1"/>
<path d="M727 2201.5V2221.5"/>
<path d="M862.8 2201.5V2221.5"/>
<path d="M680.8 2203.5V2211.5"/>
<path d="M771.3 2203.5V2211.5"/>
<path d="M579.1 2302.33H591.3"/>
<path d="M579.1 2393.17H591.3"/>
<path d="M579.1 2484H591.3" stroke-width="1.3" stroke="#333"/>
</g>
<text x="537.99" y="2178.62" font-size="29.1" fill="#000" font-weight="normal" textLength="106.82" lengthAdjust="spacingAndGlyphs">0.0E+00</text>
<text x="672.51" y="2178.62" font-size="29.1" fill="#000" font-weight="normal" textLength="108" lengthAdjust="spacingAndGlyphs">1.5E+05</text>
<text x="809.42" y="2178.62" font-size="29.1" fill="#000" font-weight="normal" textLength="106.88" lengthAdjust="spacingAndGlyphs">3.0E+05</text>
<defs><clipPath id="clip140125795149376"><rect x="571.3" y="2191.5" width="297.5" height="312.5"/></clipPath></defs>
<g clip-path="url(#clip140125795149376)">
<polyline points="659.4,2238.75 654.1,2256.92 680.2,2293.25 740.4,2347.75 743.8,2393.17 752.1,2438.58" fill="none" stroke="#4472C4" stroke-width="3.6" stroke-linejoin="round"/>
<circle cx="659.4" cy="2238.75" r="7" fill="#4472C4"/>
<circle cx="654.1" cy="2256.92" r="7" fill="#4472C4"/>
<circle cx="680.2" cy="2293.25" r="7" fill="#4472C4"/>
<circle cx="740.4" cy="2347.75" r="7" fill="#4472C4"/>
<circle cx="743.8" cy="2393.17" r="7" fill="#4472C4"/>
<circle cx="752.1" cy="2438.58" r="7" fill="#4472C4"/>
</g>
<text x="31.6" y="243.89" font-size="31.76" fill="#000" font-weight="normal" textLength="15.7" lengthAdjust="spacingAndGlyphs">a</text>
<text x="31.56" y="645.26" font-size="35.13" fill="#000" font-weight="normal" textLength="19.29" lengthAdjust="spacingAndGlyphs">b</text>
<text x="31.7" y="1029.31" font-size="29.57" fill="#000" font-weight="normal" textLength="15.31" lengthAdjust="spacingAndGlyphs">c</text>
<text x="31.14" y="1413.86" font-size="35.13" fill="#000" font-weight="normal" textLength="19.29" lengthAdjust="spacingAndGlyphs">d</text>
<text x="30.97" y="1814.68" font-size="32.86" fill="#000" font-weight="normal" textLength="18.73" lengthAdjust="spacingAndGlyphs">e</text>
<text x="30.79" y="2199" font-size="35.65" fill="#000" font-weight="normal" textLength="11.95" lengthAdjust="spacingAndGlyphs">f</text>
<text x="-495.71" y="77.94" font-size="29.18" fill="#000" font-weight="normal" textLength="146.76" lengthAdjust="spacingAndGlyphs" transform="rotate(-90)">Depth (m)</text>
<text x="-886.61" y="77.94" font-size="29.18" fill="#000" font-weight="normal" textLength="146.96" lengthAdjust="spacingAndGlyphs" transform="rotate(-90)">Depth (m)</text>
<text x="-1265.8" y="77.94" font-size="29.18" fill="#000" font-weight="normal" textLength="146.34" lengthAdjust="spacingAndGlyphs" transform="rotate(-90)">Depth (m)</text>
<text x="-1657.02" y="77.94" font-size="29.18" fill="#000" font-weight="normal" textLength="147.58" lengthAdjust="spacingAndGlyphs" transform="rotate(-90)">Depth (m)</text>
<text x="-2046.41" y="77.94" font-size="29.18" fill="#000" font-weight="normal" textLength="146.96" lengthAdjust="spacingAndGlyphs" transform="rotate(-90)">Depth (m)</text>
<text x="-2437.63" y="77.94" font-size="29.18" fill="#000" font-weight="normal" textLength="147.69" lengthAdjust="spacingAndGlyphs" transform="rotate(-90)">Depth (m)</text>
<text x="358.1" y="170.1" font-size="29.36" font-weight="bold" textLength="343.21" lengthAdjust="spacingAndGlyphs">P<tspan font-style="italic">rochlorococcus</tspan>&#160; (cells ml</text>
<text x="702.6" y="160.2" font-size="17.88" fill="#000" font-weight="bold" textLength="16" lengthAdjust="spacingAndGlyphs">-1</text>
<text x="725.98" y="169.24" font-size="30.15" fill="#000" font-weight="bold" textLength="7.55" lengthAdjust="spacingAndGlyphs">)</text>
<text x="356.57" y="572.6" font-size="29.51" font-weight="bold" textLength="324.71" lengthAdjust="spacingAndGlyphs"><tspan font-style="italic">Synechococcus</tspan>&#160; (cells ml</text>
<text x="682.57" y="562.9" font-size="18.9" fill="#000" font-weight="bold" textLength="16.54" lengthAdjust="spacingAndGlyphs">-1</text>
<text x="705.98" y="571.74" font-size="30.15" fill="#000" font-weight="bold" textLength="7.55" lengthAdjust="spacingAndGlyphs">)</text>
<text x="379" y="971.4" font-size="29.51" font-weight="bold" textLength="292.72" lengthAdjust="spacingAndGlyphs">Het. bacteria (cells ml</text>
<text x="672.97" y="961.2" font-size="18.6" fill="#000" font-weight="bold" textLength="16.54" lengthAdjust="spacingAndGlyphs">-1</text>
<text x="691.38" y="970.36" font-size="29.61" fill="#000" font-weight="bold" textLength="7.67" lengthAdjust="spacingAndGlyphs">)</text>
<text x="338.21" y="1364.1" font-size="29.36" font-weight="bold" textLength="367.57" lengthAdjust="spacingAndGlyphs">Virus-like particle&#160; (VLPs ml</text>
<text x="706.55" y="1354.2" font-size="18.6" fill="#000" font-weight="bold" textLength="16.98" lengthAdjust="spacingAndGlyphs">-1</text>
<text x="730.48" y="1363.43" font-size="29.72" fill="#000" font-weight="bold" textLength="7.55" lengthAdjust="spacingAndGlyphs">)</text>
<text x="342.79" y="1756.6" font-size="29.8" font-weight="bold" textLength="284.84" lengthAdjust="spacingAndGlyphs">T4-like cyanophage&#160; (</text>
<text x="661.24" y="1756.6" font-size="29.8" font-weight="bold" textLength="34.66" lengthAdjust="spacingAndGlyphs">ml</text>
<text x="696.55" y="1746.2" font-size="18.6" fill="#000" font-weight="bold" textLength="16.98" lengthAdjust="spacingAndGlyphs">-1</text>
<text x="720.48" y="1755.36" font-size="29.61" fill="#000" font-weight="bold" textLength="7.55" lengthAdjust="spacingAndGlyphs">)</text>
<text x="387.09" y="2128.8" font-size="29.65" font-weight="bold" textLength="284.74" lengthAdjust="spacingAndGlyphs">T7-like cyanophage&#160; (</text>
<text x="705.64" y="2128.8" font-size="29.65" font-weight="bold" textLength="34.66" lengthAdjust="spacingAndGlyphs">ml</text>
<text x="740.95" y="2119.2" font-size="19.33" fill="#000" font-weight="bold" textLength="17.09" lengthAdjust="spacingAndGlyphs">-1</text>
<text x="764.88" y="2127.86" font-size="29.61" fill="#000" font-weight="bold" textLength="7.55" lengthAdjust="spacingAndGlyphs">)</text>
<g fill="none" stroke="#000">
<ellipse cx="642.5" cy="1743" rx="10.3" ry="5.7" stroke-width="3.1"/>
<path d="M642.5 1735.9V1756" stroke-width="3.6"/>
<path d="M636 1736.6H649" stroke-width="2.2"/>
<path d="M637 1755.5H648" stroke-width="2"/>
</g>
<g fill="none" stroke="#000">
<ellipse cx="686.4" cy="2114.69" rx="10.3" ry="5.99" stroke-width="3.1"/>
<path d="M686.4 2107.2V2128.4" stroke-width="3.6"/>
<path d="M679.9 2107.9H692.9" stroke-width="2.2"/>
<path d="M680.9 2127.9H691.9" stroke-width="2"/>
</g>
</svg></body></html>
